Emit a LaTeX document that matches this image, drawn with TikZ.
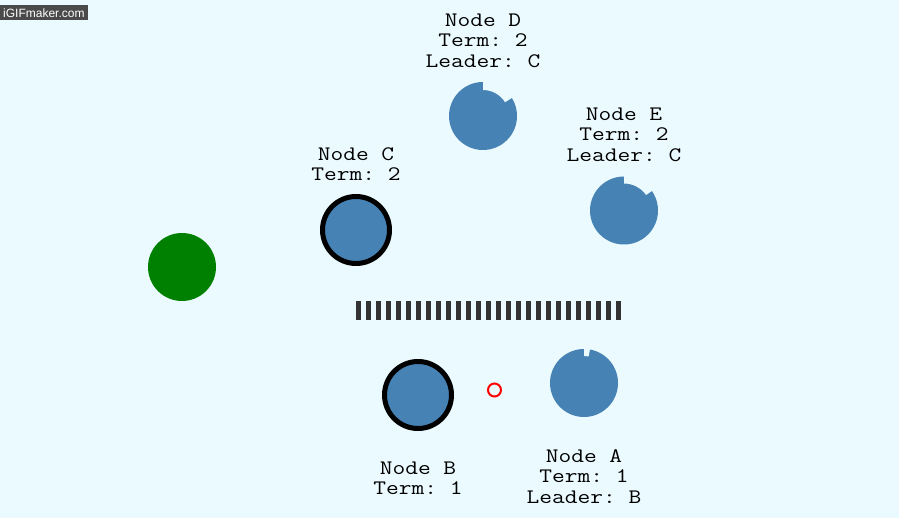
\documentclass[tikz,border=0pt]{standalone}
\usepackage{fontspec}
\setmonofont{Latin Modern Mono}[FakeStretch=1.2]
\newfontfamily\wmfont{Liberation Sans}
\usetikzlibrary{positioning}
\definecolor{bgcol}{RGB}{235,250,254}
\definecolor{srvblue}{RGB}{70,130,180}
\definecolor{srvgreen}{RGB}{0,128,0}
\definecolor{barcol}{RGB}{51,51,51}
\definecolor{wmgray}{RGB}{74,74,74}
% cut the timer notch out of a server: node, start angle, inner radius
\newcommand\notch[3]{%
  \fill[bgcol] ([shift={(#2:#3)}]#1.center) arc[start angle=#2, end angle=90, radius=#3]
    -- ++(0,12pt) arc[start angle=90, end angle=#2, radius=#3+12pt] -- cycle;}

\begin{document}
\begin{tikzpicture}[x=1pt, y=1pt,
		s/.style = {circle, fill=srvblue, minimum size=68pt, inner sep=0pt, outer sep=0pt},
		c/.style = {circle, fill=srvblue, draw=black, line width=5pt, minimum size=67pt, inner sep=0pt, outer sep=0pt},
		g/.style = {circle, fill=srvgreen, minimum size=68pt, inner sep=0pt, outer sep=0pt},
		l/.style = {font=\ttfamily\fontsize{20.6}{20.5}\selectfont, align=center, inner sep=0pt}
		]
		
		\fill[bgcol] (0,0) rectangle (899,-518);
		\useasboundingbox (0,0) rectangle (899,-518);
		
		\node[fill=wmgray, text=white, font=\wmfont\fontsize{12}{14}\selectfont,
			inner xsep=3pt, inner ysep=0pt, minimum height=15pt, anchor=west] (wm) at (0,-13) {iGIFmaker.com};
		
		\node[s]	(d)	at	(483, -116)		{};
		\notch{d}{32}{26pt}
		\node[l, above=14.5pt of d]	(dl)	{Node D\\Term: 2\\Leader: C};
		
		\node[s]	(e)	at	(624, -210.5)	{};
		\notch{e}{35}{27pt}
		\node[l, above=15pt of e]	(el)	{Node E\\Term: 2\\Leader: C};
		
		\node[c]	(c)	at	(356, -230)		{};
		\node[l, above=15.5pt of c]	(cl)	{Node C\\Term: 2};
		
		\node[g]	(f)	at	(182, -267)		{};
		
		\node[c]	(b)	at	(418, -395)		{};
		\node[l, below=33pt of b]	(bl)	{Node B\\Term: 1};
		
		\node[s]	(a)	at	(584, -383)		{};
		\notch{a}{80}{27pt}
		\node[l, below=32pt of a]	(al)	{Node A\\Term: 1\\Leader: B};
		
		\node[circle, draw=red, line width=2pt, minimum size=13pt, inner sep=0pt] (m) at (494.5, -390) {};
		
		\coordinate (q0) at (356, -310.5);
		\coordinate (q1) at (621, -310.5);
		\draw[barcol, line width=19pt, dash pattern=on 4.5pt off 5.5pt] (q0) -- (q1);
\end{tikzpicture}
\end{document}
